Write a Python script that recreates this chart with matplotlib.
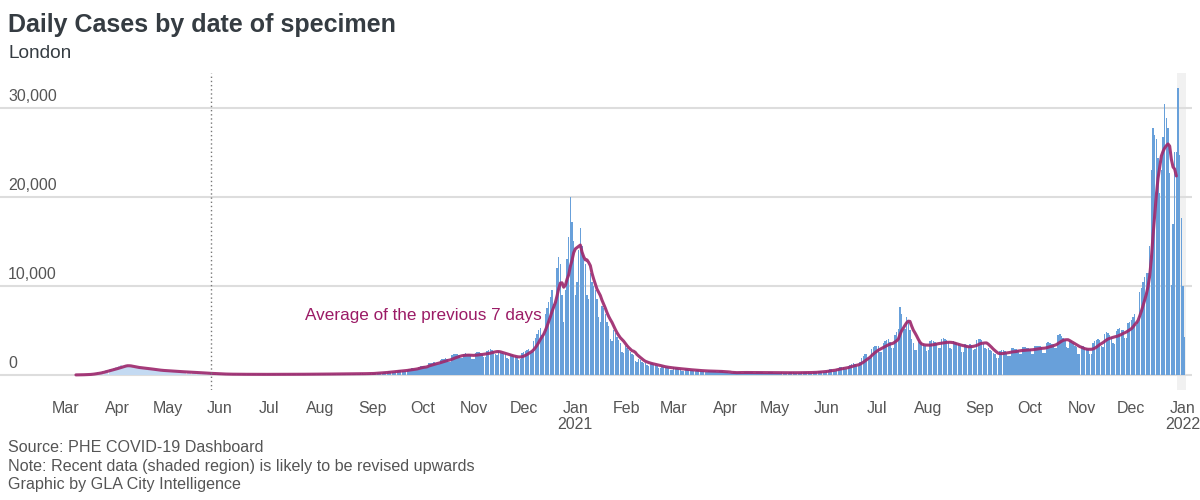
import numpy as np
import pandas as pd
import matplotlib
matplotlib.use('Agg')
import matplotlib.pyplot as plt
import matplotlib.transforms as mtransforms

plt.rcParams['font.family'] = ['Liberation Sans', 'DejaVu Sans']

# daily cases by date of specimen (London), one list per month
mar_2020 = [2, 3, 5, 8, 10, 12, 12, 15, 25, 30, 40, 50, 60, 55, 70, 110, 150, 200, 250, 280,
            260, 270, 400, 480, 550, 600, 650, 620, 600, 750, 850]
apr_2020 = [950, 1000, 1100, 1050, 950, 1100, 1100, 950, 900, 850, 800, 750, 800, 850,
            800, 750, 700, 650, 600, 680, 660, 600, 560, 520, 480, 450, 500, 520, 500, 480]
may_2020 = [450, 430, 380, 400, 410, 390, 380, 360, 320, 300, 340, 330, 310, 290, 270, 240,
            230, 270, 260, 240, 220, 210, 180, 170, 160, 180, 170, 150, 140, 130, 110]
jun_2020 = [110, 100, 100, 95, 90, 80, 70, 90, 85, 80, 85, 80, 70, 60, 80, 75, 80, 70, 70, 60,
            55, 70, 75, 70, 75, 70, 60, 55, 70, 75]
jul_2020 = [70, 75, 80, 70, 60, 55, 80, 85, 80, 80, 75, 65, 60, 85, 90, 85, 80, 75, 70, 65,
            90, 95, 90, 85, 80, 70, 65, 95, 100, 95, 90]
aug_2020 = [80, 75, 110, 115, 120, 115, 110, 90, 85, 120, 125, 130, 125, 120, 100, 95, 140,
            150, 145, 140, 135, 110, 105, 160, 170, 165, 160, 150, 130, 120, 180]
sep_2020 = [200, 230, 250, 260, 240, 200, 220, 300, 350, 380, 400, 380, 320, 350, 450, 500,
            520, 540, 500, 430, 460, 600, 680, 720, 750, 700, 620, 680, 950, 1000]
oct_2020 = [1000, 1050, 850, 900, 1300, 1350, 1400, 1450, 1400, 1200, 1200, 1700, 1750, 1800,
            1850, 1800, 1500, 1500, 2200, 2300, 2350, 2300, 2250, 1900, 1850, 2400, 2450, 2400,
            2350, 2200, 1800]
nov_2020 = [1800, 2500, 2600, 2600, 2500, 2300, 2000, 2000, 2700, 2800, 2900, 2800, 2700, 2300,
            2200, 2700, 2600, 2500, 2400, 2300, 1900, 1800, 2300, 2200, 2100, 2100, 2000, 1700,
            1800, 2500]
dec_2020 = [2600, 2700, 2800, 2900, 2500, 2600, 3800, 4200, 4600, 5000, 5300, 4500, 4700, 6800,
            7500, 8200, 8800, 9500, 8000, 8200, 12000, 13300, 12500, 9000, 6000, 9500, 13000,
            15500, 20000, 17200, 15000]
jan_2021 = [9000, 10500, 14000, 16500, 14500, 13500, 12500, 9000, 8500, 11500, 10500, 10000,
            9500, 8500, 6500, 6000, 7800, 7500, 6800, 6000, 5500, 4000, 3800, 5000, 4700, 4300,
            3900, 3600, 2600, 2500, 3200]
feb_2021 = [3000, 2800, 2600, 2400, 2200, 1600, 1500, 1800, 1700, 1500, 1400, 1300, 1100, 1000,
            1400, 1300, 1200, 1100, 1000, 800, 750, 1000, 950, 900, 850, 800, 600, 580]
mar_2021 = [850, 800, 750, 700, 650, 500, 480, 700, 650, 600, 580, 550, 420, 400, 550, 520,
            500, 480, 460, 350, 340, 480, 460, 450, 430, 420, 330, 320, 420, 400, 380]
apr_2021 = [380, 300, 220, 200, 180, 300, 320, 310, 300, 280, 220, 210, 300, 310, 300, 290,
            280, 210, 200, 290, 300, 290, 280, 270, 200, 190, 280, 290, 280, 270]
may_2021 = [200, 190, 180, 270, 280, 270, 260, 200, 190, 280, 290, 280, 270, 260, 200, 200,
            300, 310, 300, 290, 280, 220, 220, 330, 350, 380, 400, 420, 330, 340, 380]
jun_2021 = [500, 600, 650, 620, 480, 480, 700, 800, 850, 900, 880, 700, 700, 1000, 1150, 1250,
            1300, 1250, 1000, 1000, 1500, 1900, 2100, 2300, 2300, 1900, 1900, 2900, 3100, 3200]
jul_2021 = [3300, 3200, 2600, 2600, 3600, 3800, 3900, 4000, 3700, 3000, 3000, 4500, 4800, 5200,
            7600, 6800, 5000, 5200, 6500, 6000, 5000, 4000, 3600, 2800, 2800, 3900, 3700, 3600,
            3500, 3300, 2700]
aug_2021 = [2800, 3800, 3900, 3800, 3700, 3600, 3000, 3000, 4000, 4100, 4000, 3900, 3700, 3000,
            2900, 3800, 3700, 3600, 3500, 3300, 2600, 2600, 3500, 3400, 3300, 3500, 3400, 2800,
            2900, 3900, 4000]
sep_2021 = [4000, 3900, 3500, 3000, 2900, 3000, 2800, 2700, 2500, 2300, 1900, 1900, 2700, 2800,
            2800, 2700, 2500, 2100, 2100, 3000, 3000, 2900, 2900, 2800, 2300, 2300, 3100, 3100,
            3000, 3000]
oct_2021 = [2900, 2400, 2400, 3300, 3300, 3200, 3200, 3100, 2500, 2500, 3600, 3700, 3600, 3500,
            3500, 3000, 3000, 4500, 4600, 4400, 4200, 3900, 3100, 3000, 3800, 3800, 3600, 3300,
            3100, 2400, 2300]
nov_2021 = [3300, 3200, 3100, 3000, 2900, 2400, 2300, 3600, 3800, 3900, 4000, 3900, 3200, 3100,
            4600, 4800, 4700, 4500, 4300, 3600, 3500, 4900, 5200, 5300, 5100, 5000, 4200, 4100,
            5800, 6000]
dec_2021 = [6200, 6500, 6800, 5600, 6000, 9300, 9800, 10500, 11000, 11500, 11500, 14500, 23000,
            27800, 27000, 26500, 24400, 20500, 23000, 26700, 30400, 28900, 27800, 22700, 10100,
            17000, 25000, 25000, 32300, 24700, 17600]
jan_2022 = [10000, 4300]

cases = np.array(mar_2020 + apr_2020 + may_2020 + jun_2020 + jul_2020 + aug_2020 + sep_2020
                 + oct_2020 + nov_2020 + dec_2020 + jan_2021 + feb_2021 + mar_2021 + apr_2021
                 + may_2021 + jun_2021 + jul_2021 + aug_2021 + sep_2021 + oct_2021 + nov_2021
                 + dec_2021 + jan_2022)
dates = pd.date_range('2020-03-01', periods=len(cases), freq='D')
avg7 = pd.Series(cases, index=dates).rolling(7).mean()

y_ticks = [0, 10000, 20000, 30000]
month_ticks = pd.date_range('2020-03-01', '2022-01-01', freq='MS')
month_labels = [d.strftime('%b') + ('\n' + str(d.year) if d.month == 1 else '') for d in month_ticks]

testing_change = pd.Timestamp('2020-05-27')   # dotted line
shade_start = pd.Timestamp('2021-12-29')      # recent data, likely revised
line_end = pd.Timestamp('2021-12-28')

bar_blue = '#68a0da'
pale_blue = '#c4daf2'
avg_col = '#9e2a6e'
grey_txt = '#555555'

fig = plt.figure(figsize=(12, 5), dpi=100)
ax = fig.add_axes([0, 0.22, 1192 / 1200, 0.634])

start = pd.Timestamp('2020-03-01')
ax.set_xlim(start - pd.Timedelta(days=39.6), start + pd.Timedelta(days=676.4))
ax.set_ylim(-1690, 33930)

ax.axvspan(shade_start - pd.Timedelta(hours=12), dates[-1] + pd.Timedelta(hours=12),
           color='#f1f1f1', zorder=0, lw=0)
for v in y_ticks:
    ax.axhline(v, color='#dddddd', lw=1.5, zorder=0.5)

colors = [pale_blue if d < testing_change else bar_blue for d in dates]
ax.bar(dates, cases, width=0.85, color=colors, lw=0, zorder=2)

line = avg7[avg7.index <= line_end]
ax.plot(line.index, line.values, color=avg_col, lw=2.2, alpha=0.92, zorder=3,
        solid_capstyle='round')

ax.axvline(testing_change, color='#777777', lw=1, ls=(0, (1, 2)), zorder=4)

ax.text(pd.Timestamp('2020-12-12'), 6630, 'Average of the previous 7 days', color='#9b1b66',
        fontsize=12.3, ha='right', va='center', zorder=5)

# y labels sit above their gridlines
trans = mtransforms.blended_transform_factory(ax.transAxes, ax.transData)
trans = mtransforms.offset_copy(trans, fig=fig, x=0, y=4, units='dots')
for v in y_ticks:
    ax.text(8 / 1192, v, f'{v:,}', transform=trans, ha='left', va='bottom',
            color=grey_txt, fontsize=11.5)

ax.set_yticks([])
ax.set_xticks(month_ticks)
ax.set_xticklabels(month_labels, color=grey_txt, fontsize=11.5, linespacing=1.05)
ax.tick_params(axis='x', length=0, pad=8)
for s in ax.spines.values():
    s.set_visible(False)

fig.text(8 / 1200, 1 - 25 / 500, 'Daily Cases by date of specimen', fontsize=18,
         fontweight='bold', color='#353c42', ha='left', va='center')
fig.text(8 / 1200, 1 - 53 / 500, 'London', fontsize=13.7, color='#353c42', ha='left', va='center')

footer = ['Source: PHE COVID-19 Dashboard',
          'Note: Recent data (shaded region) is likely to be revised upwards',
          'Graphic by GLA City Intelligence']
for i, t in enumerate(footer):
    fig.text(8 / 1200, 1 - (447 + 19 * i) / 500, t, fontsize=11.6, color=grey_txt,
             ha='left', va='center')

fig.savefig('out.png', dpi=100)
